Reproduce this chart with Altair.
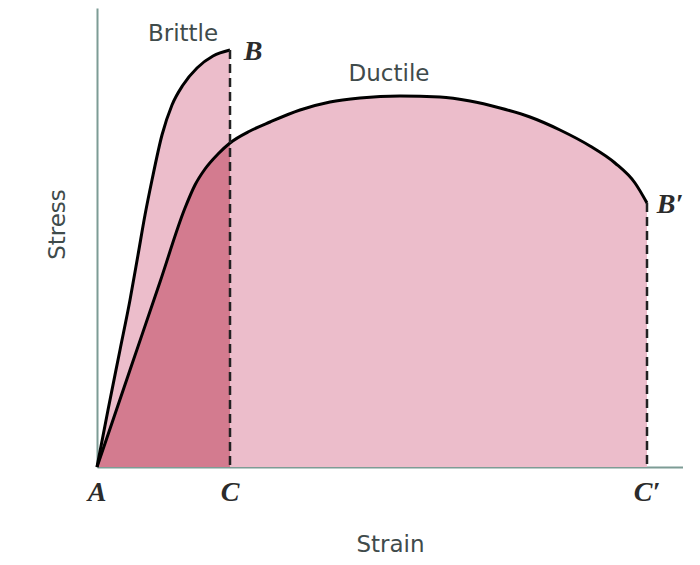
import altair as alt
import pandas as pd

# Brittle curve (strain, stress) in arbitrary units
brittle_strain = [0, 11, 23, 33, 41, 48, 55, 65, 75, 86, 100, 116, 133]
brittle_stress = [0, 57, 117, 167, 212, 252, 287, 332, 362, 382, 399, 411, 417]

# Ductile curve
ductile_strain = [0, 33, 63, 88, 98, 108, 121, 133, 153, 173, 203, 233, 263, 303,
                  343, 373, 403, 433, 463, 493, 518, 538, 550]
ductile_stress = [0, 97, 185, 259, 282, 298, 313, 324, 336, 345, 357, 365, 369, 371,
                  370, 366, 359, 350, 337, 321, 304, 284, 264]

# Point labels
pt_labels = ["A", "C", "C\u2032"]
pt_strain = [0, 133, 550]

end_labels = ["B", "B\u2032"]
end_strain = [133, 550]
end_stress = [417, 264]

curve_names = ["Brittle", "Ductile"]
curve_name_strain = [86, 292]
curve_name_stress = [433, 393]

LIGHT = "#ecbdcb"
DARK = "#d37b8f"
TXT = "#3f4b4b"

brittle = pd.DataFrame({"strain": brittle_strain, "stress": brittle_stress})
ductile = pd.DataFrame({"strain": ductile_strain, "stress": ductile_stress})
pts = pd.DataFrame({"label": pt_labels, "strain": pt_strain, "stress": [0] * len(pt_labels)})
ends = pd.DataFrame({"label": end_labels, "strain": end_strain, "stress": end_stress,
                     "zero": [0] * len(end_labels)})
names = pd.DataFrame({"label": curve_names, "strain": curve_name_strain,
                      "stress": curve_name_stress})

xs = alt.Scale(domain=[0, 586], nice=False, zero=False)
ys = alt.Scale(domain=[0, 459], nice=False, zero=False)

X = alt.X("strain:Q", scale=xs,
          axis=alt.Axis(title="Strain", labels=False, ticks=False, grid=False,
                        domainColor="#7d9c95", domainWidth=2, titleFont="DejaVu Sans",
                        titleFontSize=23, titleFontWeight="normal", titleColor=TXT,
                        titlePadding=66))
Y = alt.Y("stress:Q", scale=ys,
          axis=alt.Axis(title="Stress", labels=False, ticks=False, grid=False,
                        domainColor="#7d9c95", domainWidth=2, titleFont="DejaVu Sans",
                        titleFontSize=23, titleFontWeight="normal", titleColor=TXT,
                        titlePadding=28, titleY=216))

b_area = alt.Chart(brittle).mark_area(color=LIGHT, interpolate="monotone").encode(x=X, y=Y)
d_area = alt.Chart(ductile).mark_area(color=LIGHT, interpolate="monotone").encode(x=X, y=Y)
o_area = alt.Chart(ductile).transform_filter("datum.strain <= 133").mark_area(
    color=DARK, interpolate="monotone").encode(x=X, y=Y)
d_line = alt.Chart(ductile).mark_line(color="black", strokeWidth=3,
                                      interpolate="monotone").encode(x=X, y=Y)
b_line = alt.Chart(brittle).mark_line(color="black", strokeWidth=3,
                                      interpolate="monotone").encode(x=X, y=Y)
rules = alt.Chart(ends).mark_rule(color="#222", strokeWidth=2.5, strokeDash=[9, 5]).encode(
    x=X, y=alt.Y("stress:Q", scale=ys), y2="zero:Q")

pt_text = alt.Chart(pts).mark_text(font="Liberation Serif", fontSize=28, fontStyle="italic",
                                   fontWeight="bold", color="#2b2b2b", dy=26).encode(
    x=X, y=Y, text="label:N")
end_text = alt.Chart(ends).mark_text(font="Liberation Serif", fontSize=28, fontStyle="italic",
                                     fontWeight="bold", color="#2b2b2b", dx=23, dy=2).encode(
    x=X, y=Y, text="label:N")
name_text = alt.Chart(names).mark_text(font="DejaVu Sans", fontSize=23,
                                       color=TXT).encode(x=X, y=Y, text="label:N")

chart = alt.layer(b_area, d_area, o_area, d_line, b_line, rules, pt_text, end_text,
                  name_text).properties(
    width=586, height=459,
    autosize=alt.AutoSizeParams(type="none"),
    padding={"left": 89, "top": 0, "right": 0, "bottom": 90},
).configure(background="white").configure_view(stroke=None)

chart.save("out.html", embed_options={"renderer": "svg", "actions": False})
